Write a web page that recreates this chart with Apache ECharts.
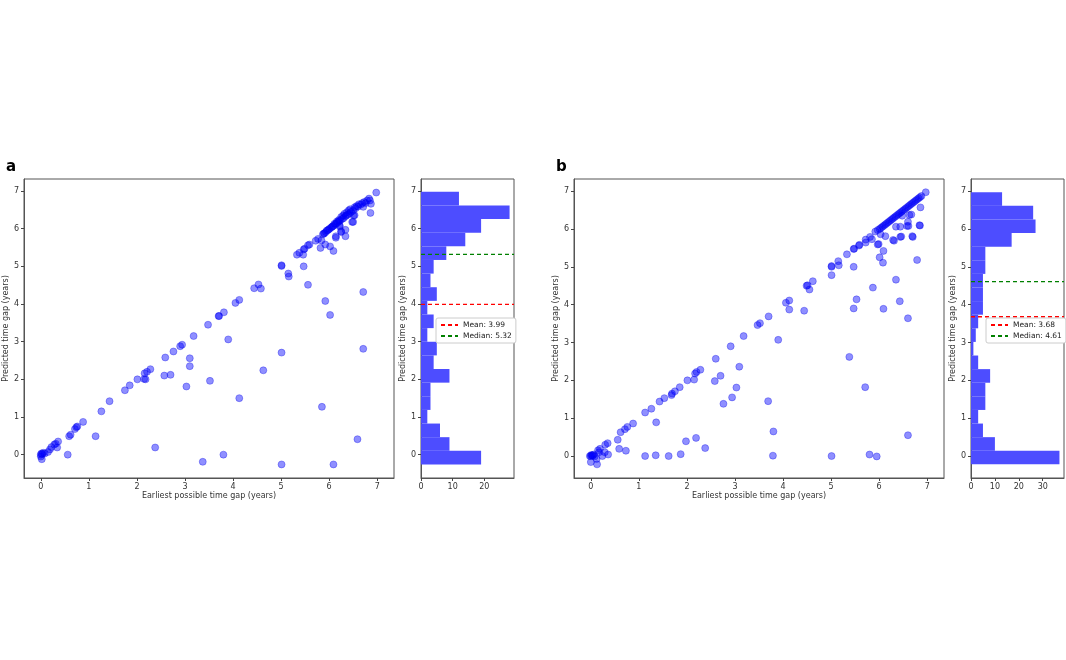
<!DOCTYPE html>
<html>
<head>
<meta charset="utf-8">
<script src="https://cdn.jsdelivr.net/npm/echarts@6/dist/echarts.min.js"></script>
<style>
	html, body { margin: 0; padding: 0; background: #fff; }
	#main { width: 1066px; height: 660px; }
</style>
</head>
<body>
<div id="main"></div>
<script>
// scatter (earliest possible gap, predicted gap)
var scatterA = [
	[0, 0], [0.02, -0.12], [0.05, 0.05], [0.03, 0.02], [0, -0.05], [0.08, 0.03], [0.01, 0.03],
	[0.15, 0.07], [0.19, 0.14], [0.22, 0.2], [0.28, 0.27], [0.31, 0.29], [0.34, 0.19], [0.36, 0.35],
	[0.56, 0], [0.59, 0.49], [0.62, 0.53], [0.71, 0.68], [0.74, 0.73], [0.76, 0.75], [0.88, 0.87],
	[1.14, 0.49], [1.26, 1.15], [1.43, 1.42], [1.75, 1.71], [1.85, 1.84], [2.01, 2.0],
	[2.15, 2.01], [2.18, 2.0], [2.16, 2.16], [2.21, 2.2], [2.28, 2.27], [2.38, 0.19],
	[2.57, 2.1], [2.7, 2.12], [2.59, 2.58], [2.76, 2.74], [2.9, 2.88], [2.94, 2.92], [3.03, 1.81],
	[3.1, 2.35], [3.1, 2.56], [3.18, 3.15], [3.37, -0.19], [3.48, 3.45], [3.52, 1.96], [3.7, 3.68],
	[3.71, 3.68], [3.81, 3.78], [3.8, 0], [3.9, 3.06], [4.05, 4.03], [4.13, 4.11], [4.13, 1.5],
	[4.44, 4.42], [4.53, 4.52], [4.58, 4.41], [4.63, 2.24],
	[5.01, 5.01], [5.01, 5.03], [5.01, 2.71], [5.01, -0.26], [5.15, 4.81], [5.16, 4.73],
	[5.33, 5.31], [5.38, 5.36], [5.46, 5.31], [5.47, 5.0], [5.47, 5.45], [5.49, 5.47],
	[5.56, 5.56], [5.59, 5.58], [5.56, 4.51], [5.72, 5.68], [5.77, 5.73], [5.82, 5.49],
	[5.84, 5.69], [5.87, 5.85], [5.9, 5.88], [5.92, 5.58], [5.92, 4.08], [5.85, 1.27],
	[5.95, 5.95], [5.99, 5.98], [6.02, 5.53], [6.09, 5.41], [6.02, 3.71], [6.09, -0.26],
	[6.07, 6.06], [6.11, 6.13], [6.14, 5.8], [6.14, 5.76], [6.16, 6.19], [6.22, 6.09],
	[6.25, 5.93], [6.34, 5.97], [6.34, 5.8], [6.2, 6.23], [6.25, 6.31], [6.29, 6.35],
	[6.32, 6.4], [6.37, 6.44], [6.41, 6.49], [6.44, 6.52], [6.48, 6.18], [6.51, 6.35],
	[6.53, 6.57], [6.57, 6.6], [6.62, 6.65], [6.59, 0.41], [6.71, 4.32], [6.71, 2.81],
	[6.73, 6.71], [6.76, 6.68], [6.79, 6.75], [6.83, 6.8], [6.85, 6.75], [6.87, 6.66],
	[6.86, 6.42], [6.98, 6.96],
	[5.89, 5.87], [5.93, 5.91], [5.97, 5.96], [6.01, 6.0], [6.04, 6.03], [6.06, 6.05],
	[6.09, 6.08], [6.13, 6.12], [6.15, 6.14], [6.18, 6.17], [6.21, 6.2], [6.23, 6.22],
	[6.27, 6.26], [6.3, 6.28], [6.34, 6.33], [6.36, 6.35], [6.39, 6.38], [6.43, 6.41],
	[6.46, 6.45], [6.5, 6.48], [6.55, 6.54], [6.6, 6.59], [6.66, 6.64], [6.69, 6.68],
	[6.22, 6.06], [6.25, 5.91], [6.5, 6.18], [6.53, 6.36], [6.71, 6.58]
];
var scatterB = [
	[-0.02, 0], [0, 0], [0.01, 0.03], [0.03, 0.02], [0.06, 0.04], [0.08, -0.01], [0.04, 0.01],
	[0, -0.16], [0.12, -0.08], [0.13, -0.22], [0.15, 0.15], [0.19, 0.19], [0.17, 0.1], [0.24, 0],
	[0.29, 0.1], [0.3, 0.3], [0.35, 0.34], [0.36, 0.04], [0.56, 0.43], [0.59, 0.19], [0.62, 0.63],
	[0.71, 0.71], [0.76, 0.77], [0.73, 0.14], [0.88, 0.86], [1.13, 1.15], [1.13, 0], [1.26, 1.25],
	[1.36, 0.89], [1.35, 0.02], [1.43, 1.44], [1.53, 1.53], [1.62, 0], [1.68, 1.61], [1.69, 1.65],
	[1.75, 1.71], [1.85, 1.82], [1.87, 0.05], [1.98, 0.39], [2.01, 2.0], [2.15, 2.02], [2.17, 2.18],
	[2.2, 2.22], [2.28, 2.28], [2.19, 0.48], [2.38, 0.21], [2.58, 1.98], [2.6, 2.57], [2.7, 2.12],
	[2.76, 1.38], [2.91, 2.9], [2.94, 1.55], [3.03, 1.81], [3.09, 2.36], [3.18, 3.17], [3.47, 3.46],
	[3.52, 3.51], [3.69, 1.45], [3.7, 3.69], [3.8, 0.65], [3.79, 0.01], [3.9, 3.07], [4.06, 4.05],
	[4.13, 4.11], [4.13, 3.87], [4.44, 3.84], [4.49, 4.5], [4.51, 4.51], [4.55, 4.4], [4.62, 4.62],
	[5.01, 5.02], [5.01, 5.0], [5.01, 4.78], [5.01, 0], [5.15, 5.15], [5.16, 5.04], [5.33, 5.33],
	[5.47, 5.47], [5.48, 5.48], [5.47, 5.0], [5.58, 5.56], [5.59, 5.58], [5.38, 2.62], [5.47, 3.9],
	[5.53, 4.14], [5.71, 1.82], [5.72, 5.64], [5.72, 5.72], [5.8, 0.04], [5.95, -0.01],
	[5.81, 5.79], [5.85, 5.73], [5.87, 4.45], [5.99, 5.6], [6.01, 5.25], [6.09, 5.42],
	[6.08, 5.11], [6.09, 3.89], [5.92, 5.93], [5.97, 5.97], [6.01, 6.0], [6.03, 5.86],
	[6.13, 5.81], [6.31, 5.69], [6.35, 4.66], [6.44, 5.79], [6.35, 6.06], [6.44, 6.06],
	[6.58, 6.08], [6.6, 6.19], [6.69, 5.81], [6.79, 5.18], [6.43, 4.09], [6.6, 3.64],
	[6.48, 6.35], [6.67, 6.38], [6.6, 0.55], [6.86, 6.57], [6.85, 6.09], [6.97, 6.97],
	[6.04, 6.03], [6.07, 6.06], [6.1, 6.09], [6.13, 6.12], [6.16, 6.15], [6.19, 6.18],
	[6.22, 6.21], [6.25, 6.24], [6.28, 6.27], [6.31, 6.3], [6.34, 6.33], [6.37, 6.36],
	[6.4, 6.39], [6.43, 6.42], [6.46, 6.45], [6.49, 6.48], [6.52, 6.51], [6.55, 6.54],
	[6.58, 6.57], [6.61, 6.6], [6.64, 6.63], [6.67, 6.66], [6.7, 6.69], [6.73, 6.72],
	[6.76, 6.75], [6.79, 6.78], [6.82, 6.81], [6.85, 6.84], [6.88, 6.87],
	[6.84, 6.1], [6.63, 6.37], [6.61, 6.08], [6.7, 5.79], [6.29, 5.71], [6.46, 5.8], [5.97, 5.59]
];

// histogram counts, 20 bins from bottom to top
var histA = [19, 9, 6, 2, 3, 3, 9, 4, 5, 2, 4, 2, 5, 3, 4, 8, 14, 19, 28, 12];
var histB = [37, 10, 5, 3, 6, 6, 8, 3, 1, 2, 3, 5, 5, 5, 6, 6, 17, 27, 26, 13];
var binRangeA = [-0.26, 6.98];
var binRangeB = [-0.22, 6.97];

var statsA = { mean: 3.99, median: 5.32 };
var statsB = { mean: 3.68, median: 4.61 };

var gapTicks = [0, 1, 2, 3, 4, 5, 6, 7];
var countTicksA = [0, 10, 20];
var countTicksB = [0, 10, 20, 30];

var FONT = "DejaVu Sans";

function toBins(counts, range) {
	var w = (range[1] - range[0]) / counts.length;
	return counts.map(function (c, i) {
		return [range[0] + i * w, range[0] + (i + 1) * w, c];
	});
}

function axis(gridIndex, min, max, ticks, name, nameGap) {
	return {
		type: "value",
		gridIndex: gridIndex,
		min: min,
		max: max,
		name: name,
		nameLocation: "middle",
		nameGap: nameGap,
		nameTextStyle: { fontFamily: FONT, fontSize: 8, color: "#333" },
		axisLine: { show: true, onZero: false, lineStyle: { color: "#555", width: 1 } },
		axisTick: { show: true, length: 3, customValues: ticks, lineStyle: { color: "#444" } },
		axisLabel: { customValues: ticks, fontFamily: FONT, fontSize: 8, color: "#333", margin: 5 },
		splitLine: { show: false }
	};
}

function histRender(params, api) {
	var top = api.coord([0, api.value(1)]);
	var bottom = api.coord([api.value(2), api.value(0)]);
	return {
		type: "rect",
		shape: { x: top[0], y: top[1], width: bottom[0] - top[0], height: bottom[1] - top[1] },
		style: { fill: "#4d4dff" }
	};
}

function panelSeries(g, pts, counts, range, stats, countMax) {
	return [
		{
			type: "scatter",
			xAxisIndex: g,
			yAxisIndex: g,
			data: pts,
			symbolSize: 7,
			itemStyle: { color: "rgba(0,0,255,0.55)", borderColor: "rgba(0,0,230,0.4)", borderWidth: 1 }
		},
		{
			type: "custom",
			xAxisIndex: g + 1,
			yAxisIndex: g + 1,
			renderItem: histRender,
			encode: { x: 2, y: [0, 1] },
			data: toBins(counts, range)
		},
		{
			type: "line",
			name: "Mean: " + stats.mean.toFixed(2),
			xAxisIndex: g + 1,
			yAxisIndex: g + 1,
			symbol: "none",
			color: "#ff0000",
			lineStyle: { color: "#ff0000", type: [4, 3], width: 1.3 },
			data: [[0, stats.mean], [countMax, stats.mean]]
		},
		{
			type: "line",
			name: "Median: " + stats.median.toFixed(2),
			xAxisIndex: g + 1,
			yAxisIndex: g + 1,
			symbol: "none",
			color: "#008000",
			lineStyle: { color: "#008000", type: [4, 3], width: 1.3 },
			data: [[0, stats.median], [countMax, stats.median]]
		}
	];
}

function legend(left, stats) {
	return {
		orient: "vertical",
		left: left,
		top: 318,
		itemWidth: 17,
		itemHeight: 7,
		itemGap: 3,
		padding: [3, 4],
		borderColor: "#ccc",
		borderWidth: 1,
		borderRadius: 2,
		backgroundColor: "#fff",
		itemStyle: { opacity: 0 },
		textStyle: { fontFamily: FONT, fontSize: 7.5, color: "#222" },
		data: ["Mean: " + stats.mean.toFixed(2), "Median: " + stats.median.toFixed(2)]
	};
}

var maxA = 29.4, maxB = 38.9;

var chart = echarts.init(document.getElementById("main"), null, { renderer: "canvas" });
var option = {
	backgroundColor: "#fff",
	animation: false,
	title: [
		{ text: "a", left: 1, top: 155, textStyle: { fontFamily: FONT, fontSize: 15, fontWeight: "bold", color: "#000" } },
		{ text: "b", left: 551, top: 155, textStyle: { fontFamily: FONT, fontSize: 15, fontWeight: "bold", color: "#000" } }
	],
	grid: [
		{ left: 24, top: 179, width: 370, height: 299, show: true, borderColor: "#555", borderWidth: 1 },
		{ left: 421, top: 179, width: 93, height: 299, show: true, borderColor: "#555", borderWidth: 1 },
		{ left: 574, top: 179, width: 370, height: 299, show: true, borderColor: "#555", borderWidth: 1 },
		{ left: 971, top: 179, width: 93, height: 299, show: true, borderColor: "#555", borderWidth: 1 }
	],
	xAxis: [
		axis(0, -0.35, 7.35, gapTicks, "Earliest possible time gap (years)", 14),
		axis(1, 0, maxA, countTicksA, "", 14),
		axis(2, -0.35, 7.35, gapTicks, "Earliest possible time gap (years)", 14),
		axis(3, 0, maxB, countTicksB, "", 14)
	],
	yAxis: [
		axis(0, -0.62, 7.32, gapTicks, "Predicted time gap (years)", 10),
		axis(1, -0.62, 7.32, gapTicks, "Predicted time gap (years)", 10),
		axis(2, -0.58, 7.32, gapTicks, "Predicted time gap (years)", 10),
		axis(3, -0.58, 7.32, gapTicks, "Predicted time gap (years)", 10)
	],
	legend: [legend(436, statsA), legend(986, statsB)],
	series: []
		.concat(panelSeries(0, scatterA, histA, binRangeA, statsA, maxA))
		.concat(panelSeries(2, scatterB, histB, binRangeB, statsB, maxB))
};
chart.setOption(option);
</script>
</body>
</html>
